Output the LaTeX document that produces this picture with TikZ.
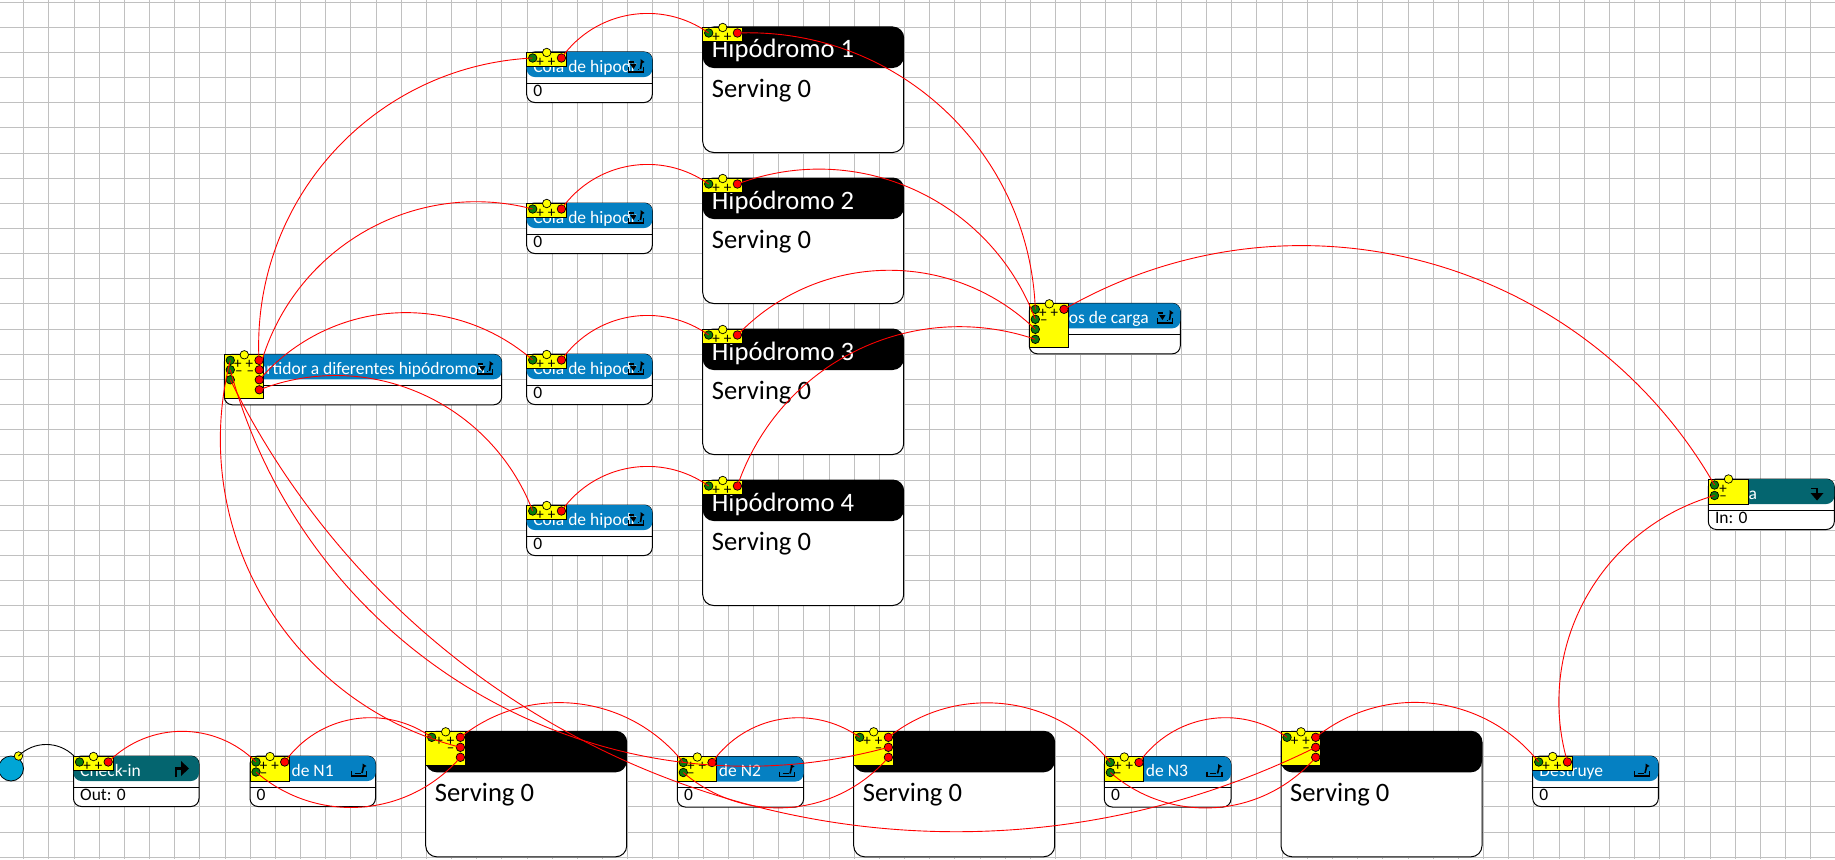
\documentclass[tikz,border=0pt]{standalone}
\usetikzlibrary{calc}
\usepackage{fontspec}
\setmainfont{Carlito}
\definecolor{gridc}{HTML}{C0C0C0}
\definecolor{teal1}{HTML}{04656F}
\definecolor{blue1}{HTML}{0580C2}
\definecolor{src}{HTML}{00A5D6}
\definecolor{grn}{HTML}{0B7A0B}
\definecolor{ylw}{HTML}{FFFF00}
\tikzset{
  body/.style={draw=black,line width=1pt,fill=white,rounded corners=8pt,anchor=north west,inner sep=0pt,outer sep=0pt},
  hdr/.style={fill=#1,rounded corners=8pt,anchor=north west,inner sep=0pt,outer sep=0pt},
  patchy/.style={fill=ylw,draw=black,line width=.7pt,anchor=north west,inner sep=0pt,outer sep=0pt},
  gport/.style={circle,draw=black,line width=.7pt,fill=grn,minimum size=8.5pt,inner sep=0pt,outer sep=0pt},
  rport/.style={circle,draw=black,line width=.7pt,fill=red,minimum size=8.5pt,inner sep=0pt,outer sep=0pt},
  yport/.style={circle,draw=black,line width=.7pt,fill=ylw,minimum size=8.5pt,inner sep=0pt,outer sep=0pt},
  sgn/.style={font=\fontsize{15}{15}\selectfont,inner sep=0pt,text=black},
  small/.style={font=\fontsize{17.5}{18}\selectfont,anchor=base west,inner sep=0pt},
  val/.style={font=\fontsize{17.5}{18}\selectfont,anchor=base west,inner sep=0pt},
  big/.style={font=\fontsize{26.6}{27}\selectfont,anchor=base west,inner sep=0pt},
  link/.style={draw=red,line width=.9pt},
  ico/.style={draw=black,line width=1.6pt,line cap=butt,line join=miter}
}
% connector: circular-looking arc bending left from output to input
\newcommand\linkto[3][link]{\draw[#1] (#2.center) .. controls ($(#2)!0.3915!45:(#3)$) and ($(#3)!0.3915!-45:(#2)$) .. (#3.center);}
% small block: name, L, T, W, colour, title, value
\newcommand\qblock[7]{%
  \begin{scope}[shift={(#2,#3)}]
    \node[body,minimum width=#4pt,minimum height=50.5pt] (#1) at (0,0) {};
    \node[hdr=#5,minimum width=#4pt,minimum height=25pt] (#1h) at (0,0) {};
    \draw[line width=1pt] (0,31)--(#4,31);
    \node[small,text=white] (#1t) at (6.5,20) {#6};
    \node[val,text=black] (#1v) at (6.5,44) {#7};
  \end{scope}}
% big block: name, L, T, title
\newcommand\sblock[4]{%
  \begin{scope}[shift={(#2,#3)}]
    \node[body,rounded corners=11pt,minimum width=201pt,minimum height=125.5pt] (#1) at (0,0) {};
    \node[hdr=black,rounded corners=11pt,minimum width=201pt,minimum height=41pt] (#1h) at (0,0) {};
    \node[big,text=white] (#1t) at (9,31) {#4};
    \node[big,text=black] (#1v) at (9,70) {Serving 0};
  \end{scope}}
% queue with single in and out port
\newcommand\ptop[4]{% name L T patch height
  \begin{scope}[shift={(#2,#3)}]
    \node[patchy,minimum width=39.5pt,minimum height=#4pt] (#1p) at (0,0) {};
    \node[yport] (#1y) at (20,0.5) {};
    \node[gport] (#1a) at (6,6) {};
    \node[rport] (#1x) at (34.7,6) {};
    \node[sgn] (#1s) at (13.5,10) {+};
    \node[sgn] (#1u) at (25,10) {+};
  \end{scope}}
\newcommand\iconA[2]{% tray with arrow out
  \begin{scope}[shift={(#1,#2)}]
    \draw[ico] (0,8)--(0,13)--(15,13)--(15,8);
    \draw[ico,line width=1pt] (3,10)--(9,10);
    \draw[ico] (10.5,10)--(12,4);
    \fill (11,0.5)--(15,3)--(11,5)--cycle;
  \end{scope}}
\newcommand\iconB[2]{% tray with arrow in and out
  \begin{scope}[shift={(#1,#2)}]
    \draw[ico] (0,3)--(5,3);
    \draw[ico] (0,8)--(0,13)--(15,13)--(15,8);
    \fill (1.5,5)--(8,5)--(5,10)--cycle;
    \draw[ico,line width=1pt] (9,10)--(10,10);
    \draw[ico] (12,10)--(13,4);
    \fill (12,0)--(16,3)--(12,5)--cycle;
  \end{scope}}
\begin{document}
\begin{tikzpicture}[x=1pt,y=-1pt]
\useasboundingbox (0,0) rectangle (1835,859);
\fill[white] (0,0) rectangle (1835,859);
\foreach \i in {0,...,73} \draw[gridc,line width=1pt] ({round(-2+25.17*\i)+.5},0)--({round(-2+25.17*\i)+.5},859);
\foreach \i in {0,...,34} \draw[gridc,line width=1pt] (0,{round(1.7+25.15*\i)+.5})--(1835,{round(1.7+25.15*\i)+.5});

% source
\node[circle,draw=black,line width=.8pt,fill=src,minimum size=25pt,inner sep=0pt] (source) at (11,768.5) {};
\node[yport] (sourcey) at (18.5,756) {};

% black connector
\coordinate (chkin) at (74,756);
\linkto[draw=black,line width=.9pt]{sourcey}{chkin}

% blocks
\qblock{chk}{73.5}{756}{125.5}{teal1}{Check-in}{Out: 0}
\qblock{qa}{250}{756}{125.5}{blue1}{Cola de N1}{0}
\qblock{qb}{677.3}{756.5}{126.3}{blue1}{Cola de N2}{0}
\qblock{qc}{1104.3}{756.5}{126.7}{blue1}{Cola de N3}{0}
\qblock{des}{1532.7}{756}{125.6}{blue1}{Destruye}{0}
\qblock{sal}{1708.3}{479}{126}{teal1}{Salida}{In: 0}
\qblock{par}{224.3}{354.3}{277.4}{blue1}{Repartidor a diferentes hipódromos}{}
\qblock{pun}{1029.3}{303.3}{151}{blue1}{Puntos de carga}{}
\qblock{h1}{526.7}{52}{125.6}{blue1}{Cola de hipodr}{0}
\qblock{h2}{526.7}{203}{125.6}{blue1}{Cola de hipodr}{0}
\qblock{h3}{526.7}{354}{125.6}{blue1}{Cola de hipodr}{0}
\qblock{h4}{526.7}{505}{125.6}{blue1}{Cola de hipodr}{0}
\sblock{s1}{425.7}{731.3}{}
\sblock{s2}{853.7}{731.3}{}
\sblock{s3}{1281}{731.3}{}
\sblock{p1}{702.7}{27}{Hipódromo 1}
\sblock{p2}{702.7}{178}{Hipódromo 2}
\sblock{p3}{702.7}{329}{Hipódromo 3}
\sblock{p4}{702.7}{480}{Hipódromo 4}

% icons
\iconA{351.5}{763}\iconA{779.5}{763.5}\iconA{1207}{763.5}\iconA{1634.5}{763}
\iconB{628.5}{59}\iconB{628.5}{210}\iconB{628.5}{361}\iconB{628.5}{512}
\iconB{477.5}{361}\iconB{1157.5}{310}
\draw[ico,line width=2.6pt] (176,777)--(176,768.5)--(182,768.5);
\fill (181,761)--(189,768.5)--(181,776)--cycle;
\draw[ico,line width=1.6pt] (1811,488.5)--(1817,488.5)--(1817,494);
\fill (1810.5,493)--(1823.5,493)--(1817,500.5)--cycle;

% port tops
\ptop{chk}{73.5}{756}{14}
\ptop{h1}{526.7}{52}{14}
\ptop{h2}{526.7}{203}{14}
\ptop{h3}{526.7}{354}{14}
\ptop{h4}{526.7}{505}{14}
\ptop{des}{1532.7}{756}{14}
\ptop{p1}{702.7}{27}{14}
\ptop{p2}{702.7}{178}{14}
\ptop{p3}{702.7}{329}{14}
\ptop{p4}{702.7}{480}{14}
\ptop{qa}{250}{756}{25}
\ptop{qb}{677.3}{756.5}{25}
\ptop{qc}{1104.3}{756.5}{25}
\ptop{s1}{425.7}{731.3}{34}
\ptop{s2}{853.7}{731.3}{34}
\ptop{s3}{1281}{731.3}{34}
\ptop{par}{224.3}{354.3}{44}
\ptop{pun}{1029.3}{303.3}{44}
% extra ports
\foreach \n/\x/\y in {qa/250/756,qb/677.3/756.5,qc/1104.3/756.5}{
  \node[gport] (\n b) at (\x+6,\y+16) {};
  \node[sgn] (\n m) at (\x+13.5,\y+19) {--};
}
\foreach \n/\x/\y in {s1/425.7/731.3,s2/853.7/731.3,s3/1281/731.3}{
  \node[rport] (\n x2) at (\x+34.7,\y+16) {};
  \node[rport] (\n x3) at (\x+34.7,\y+26) {};
  \node[sgn] (\n m) at (\x+25,\y+19) {--};
}
\foreach \n/\x/\y in {par/224.3/354.3}{
  \node[gport] (\n b) at (\x+6,\y+15.5) {};
  \node[gport] (\n c) at (\x+6,\y+25.5) {};
  \node[rport] (\n x2) at (\x+35,\y+15.5) {};
  \node[rport] (\n x3) at (\x+35,\y+25.5) {};
  \node[rport] (\n x4) at (\x+35,\y+35.5) {};
  \node[sgn] (\n m) at (\x+14.5,\y+19) {--};
  \node[sgn] (\n n) at (\x+26,\y+19) {--};
}
\foreach \n/\x/\y in {pun/1029.3/303.3}{
  \node[gport] (\n b) at (\x+6,\y+16) {};
  \node[gport] (\n c) at (\x+6,\y+26) {};
  \node[gport] (\n d) at (\x+6,\y+36) {};
  \node[sgn] (\n m) at (\x+14.5,\y+19) {--};
}
% Salida: patch with two inputs only
\node[patchy,minimum width=40pt,minimum height=25pt] (salp) at (1708.3,479) {};
\node[yport] (saly) at (1728.5,479) {};
\node[gport] (sala) at (1714.5,485) {};
\node[gport] (salb) at (1714.5,495.5) {};
\node[sgn] (sals) at (1723,489) {+};
\node[sgn] (salm) at (1723,498) {--};

% connectors
\linkto{chkx}{qaa}
\linkto{qax}{s1a}
\linkto{s1x3}{qab}
\linkto{s1x}{qba}
\linkto{s1x2}{para}
\linkto{qbx}{s2a}
\linkto{s2x3}{qbb}
\linkto{s2x}{qca}
\linkto{s2x2}{parb}
\linkto{qcx}{s3a}
\linkto{s3x3}{qcb}
\linkto{s3x}{desa}
\linkto{s3x2}{parc}
\linkto{parx}{h1a}
\linkto{parx2}{h2a}
\linkto{parx3}{h3a}
\linkto{parx4}{h4a}
\linkto{h1x}{p1a}
\linkto{h2x}{p2a}
\linkto{h3x}{p3a}
\linkto{h4x}{p4a}
\linkto{p1x}{puna}
\linkto{p2x}{punb}
\linkto{p3x}{punc}
\linkto{p4x}{pund}
\linkto{punx}{sala}
\linkto{desx}{salb}
\end{tikzpicture}
\end{document}
